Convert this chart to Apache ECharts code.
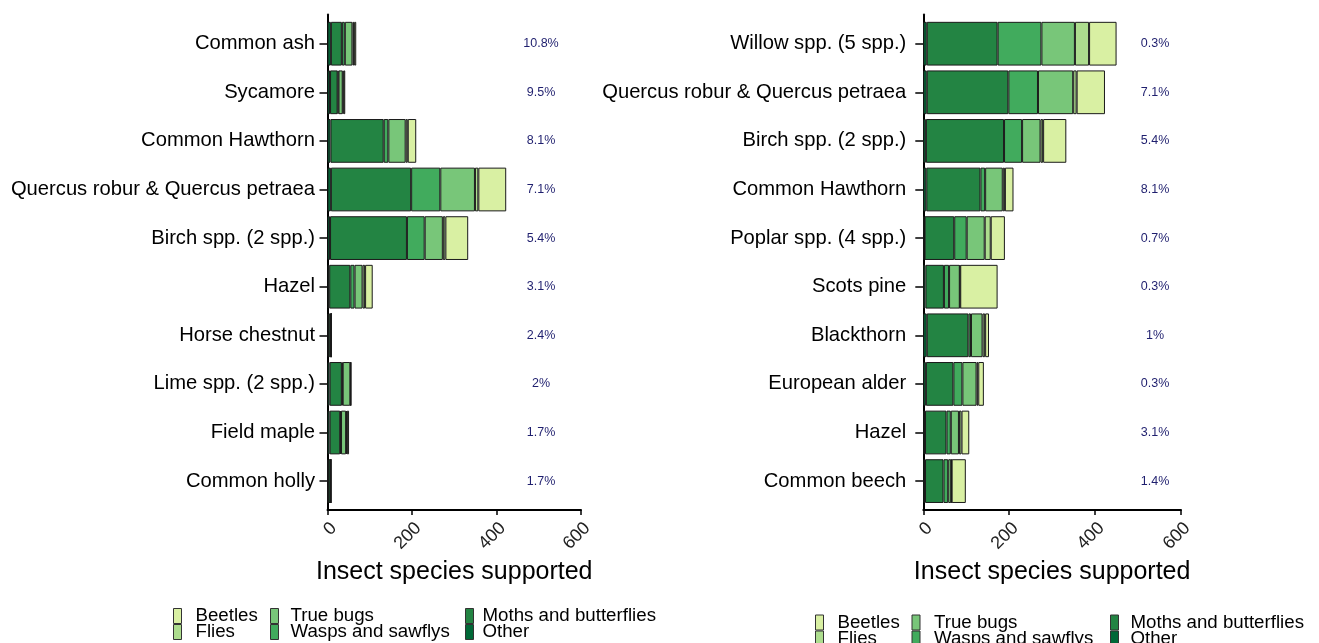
<!DOCTYPE html>
<html><head><meta charset="utf-8">
<script src="https://cdn.jsdelivr.net/npm/echarts@6/dist/echarts.min.js"></script>
<style>html,body{margin:0;padding:0;background:#fff}#c{width:1319px;height:643px}</style>
</head><body><div id="c"></div>
<script>
// Groups in stacking order (left to right within a bar)
const groups = ['Other', 'Moths and butterflies', 'Wasps and sawflys', 'True bugs', 'Flies', 'Beetles'];
const groupColors = ['#006837', '#238443', '#41ab5d', '#78c679', '#addd8e', '#d9f0a3'];

// Left panel
const leftCategories = ['Common ash', 'Sycamore', 'Common Hawthorn', 'Quercus robur & Quercus petraea', 'Birch spp. (2 spp.)', 'Hazel', 'Horse chestnut', 'Lime spp. (2 spp.)', 'Field maple', 'Common holly'];
const leftPercent = ['10.8%', '9.5%', '8.1%', '7.1%', '5.4%', '3.1%', '2.4%', '2%', '1.7%', '1.7%'];
const leftOther   = [8, 6, 7, 8, 6, 4, 3, 5, 5, 2];
const leftMoths   = [26, 18, 126, 190, 182, 50, 5, 29, 25, 5];
const leftWasps   = [7, 2, 11, 69, 42, 10, 0, 2, 2, 0];
const leftBugs    = [18, 10, 41, 82, 43, 19, 1, 18, 12, 1];
const leftFlies   = [4, 2, 5, 8, 6, 6, 0, 1, 2, 0];
const leftBeetles = [5, 4, 20, 66, 54, 18, 1, 1, 5, 0];

// Right panel
const rightCategories = ['Willow spp. (5 spp.)', 'Quercus robur & Quercus petraea', 'Birch spp. (2 spp.)', 'Common Hawthorn', 'Poplar spp. (4 spp.)', 'Scots pine', 'Blackthorn', 'European alder', 'Hazel', 'Common beech'];
const rightPercent = ['0.3%', '7.1%', '5.4%', '8.1%', '0.7%', '0.3%', '1%', '0.3%', '3.1%', '1.4%'];
const rightOther   = [8, 8, 6, 7, 3, 5, 8, 6, 4, 4];
const rightMoths   = [165, 190, 182, 126, 69, 43, 97, 64, 50, 43];
const rightWasps   = [102, 69, 42, 11, 29, 12, 6, 21, 10, 11];
const rightBugs    = [78, 82, 43, 41, 42, 25, 27, 33, 19, 7];
const rightFlies   = [33, 8, 6, 5, 14, 1, 6, 4, 6, 1];
const rightBeetles = [64, 66, 54, 20, 33, 87, 9, 13, 18, 33];

const xTicks = [0, 200, 400, 600];
const axisTitle = 'Insect species supported';

const leftData = [leftOther, leftMoths, leftWasps, leftBugs, leftFlies, leftBeetles];
const rightData = [rightOther, rightMoths, rightWasps, rightBugs, rightFlies, rightBeetles];

const FONT = 'Liberation Sans, Arial, Helvetica, sans-serif';
const L = {left: 327.5, width: 253.5};
const R = {left: 923.3, width: 257.7};

function barGrid(p) { return {left: p.left, width: p.width, top: 19.4, height: 486}; }
function frameGrid(p) { return {left: p.left, width: p.width, top: 14.5, height: 495.5}; }

function hiddenX(gi) { return {gridIndex: gi, type: 'value', min: xTicks[0], max: xTicks[xTicks.length - 1], interval: 200, show: false}; }
function frameX(gi) {
  return {
    gridIndex: gi, type: 'value', min: xTicks[0], max: xTicks[xTicks.length - 1], interval: 200,
    axisLine: {show: true, lineStyle: {color: '#000', width: 2}},
    axisTick: {show: true, length: 5, lineStyle: {color: '#000', width: 1.5}},
    axisLabel: {rotate: 45, fontSize: 18, color: '#222', margin: 9, align: 'right', verticalAlign: 'top', fontFamily: FONT},
    splitLine: {show: false},
    name: axisTitle, nameLocation: 'middle', nameGap: 48,
    nameTextStyle: {fontSize: 25, color: '#000', fontFamily: FONT}
  };
}
function catY(gi, cats, tickLen, margin) {
  return {
    gridIndex: gi, type: 'category', data: cats, inverse: true,
    axisLine: {show: false},
    axisTick: {show: true, alignWithLabel: true, length: tickLen, lineStyle: {color: '#000', width: 1.5}},
    axisLabel: {fontSize: 20.2, color: '#000', margin: margin, fontFamily: FONT},
    splitLine: {show: false}
  };
}
function pctY(gi, pcts, off) {
  return {
    gridIndex: gi, type: 'category', data: pcts, inverse: true, position: 'right', offset: off,
    axisLine: {show: false}, axisTick: {show: false},
    axisLabel: {fontSize: 12.5, color: '#1f1f6e', margin: 0, align: 'center', fontFamily: FONT},
    splitLine: {show: false}
  };
}
function frameY(gi) {
  return {
    gridIndex: gi, type: 'value', min: 0, max: 1,
    axisLine: {show: true, lineStyle: {color: '#000', width: 2}},
    axisTick: {show: false}, axisLabel: {show: false}, splitLine: {show: false}
  };
}

const series = [];
groups.forEach((g, i) => {
  series.push({
    type: 'bar', name: g, xAxisIndex: 0, yAxisIndex: 0, stack: 'left',
    barCategoryGap: '10%', data: leftData[i],
    itemStyle: {color: groupColors[i], borderColor: '#1a1a1a', borderWidth: 1},
    emphasis: {disabled: true}
  });
});
groups.forEach((g, i) => {
  series.push({
    type: 'bar', name: g, xAxisIndex: 2, yAxisIndex: 3, stack: 'right',
    barCategoryGap: '10%', data: rightData[i],
    itemStyle: {color: groupColors[i], borderColor: '#1a1a1a', borderWidth: 1},
    emphasis: {disabled: true}
  });
});

function legend(left, top, names, pad) {
  return {
    left: left, top: top, height: 60, orient: 'vertical', data: names, icon: 'rect',
    itemWidth: 8, itemHeight: 15, itemGap: -3, padding: 0, selectedMode: false,
    itemStyle: {borderColor: '#333', borderWidth: 1},
    textStyle: {fontSize: 18.7, color: '#000', lineHeight: 15, padding: [0, 0, 0, pad], fontFamily: FONT}
  };
}

const option = {
  backgroundColor: '#fff',
  animation: false,
  textStyle: {fontFamily: FONT},
  grid: [barGrid(L), frameGrid(L), barGrid(R), frameGrid(R)],
  xAxis: [hiddenX(0), frameX(1), hiddenX(2), frameX(3)],
  yAxis: [catY(0, leftCategories, 8, 12.5), pctY(0, leftPercent, -40), frameY(1),
          catY(2, rightCategories, 8, 17), pctY(2, rightPercent, -26), frameY(3)],
  legend: [
    legend(173, 606.5, ['Beetles', 'Flies'], 9),
    legend(270, 606.5, ['True bugs', 'Wasps and sawflys'], 7),
    legend(465, 606.5, ['Moths and butterflies', 'Other'], 4),
    legend(815, 613, ['Beetles', 'Flies'], 9),
    legend(911.5, 613, ['True bugs', 'Wasps and sawflys'], 9),
    legend(1110, 613, ['Moths and butterflies', 'Other'], 7)
  ],
  series: series
};

const chart = echarts.init(document.getElementById('c'), null, {renderer: 'canvas'});
chart.setOption(option);
</script>
</body></html>
